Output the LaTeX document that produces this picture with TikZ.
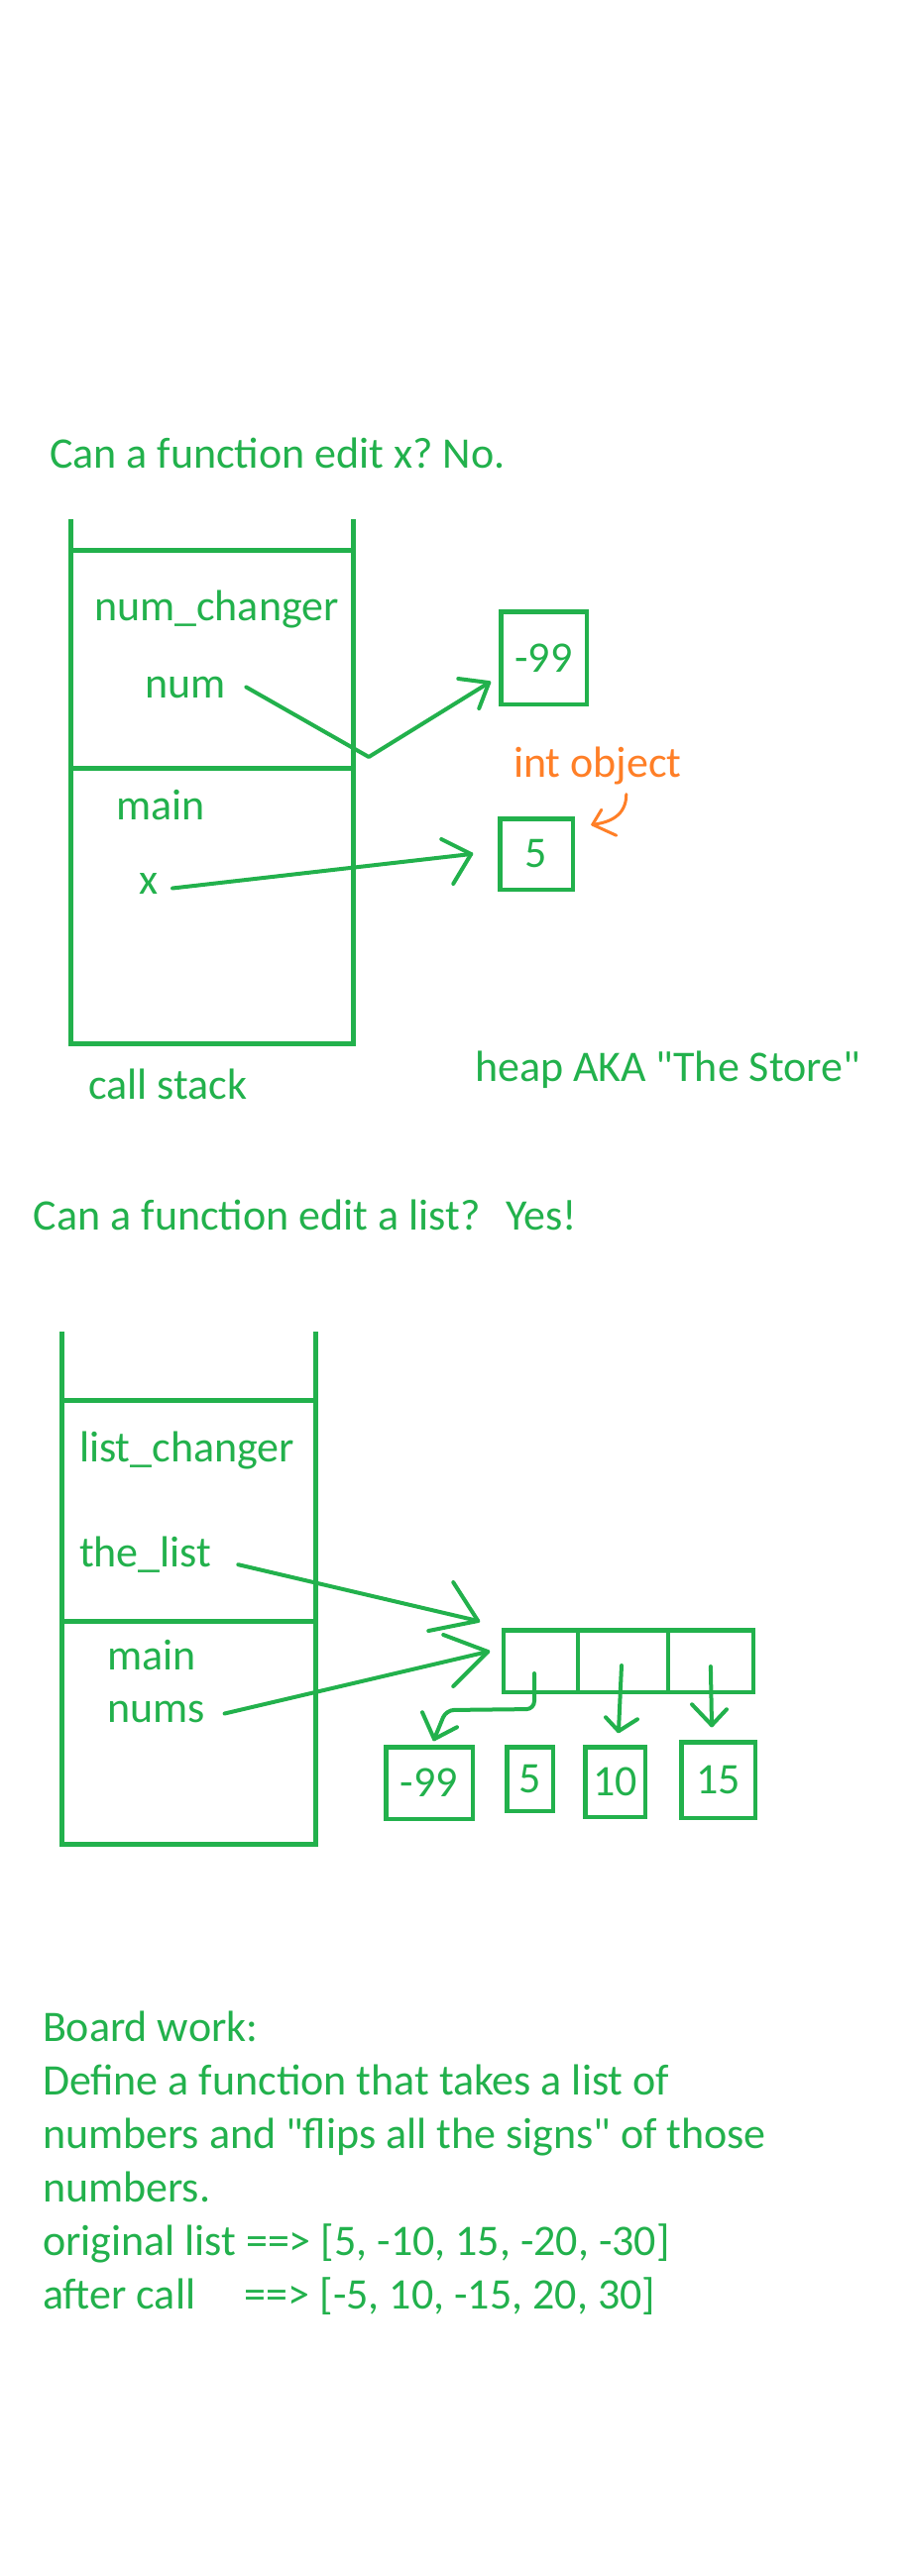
\documentclass[tikz,border=0pt]{standalone}
\usepackage{fontspec}
\setmainfont{Carlito}
\frenchspacing
\definecolor{pgreen}{RGB}{34,177,76}
\definecolor{porange}{RGB}{255,127,39}
\newcommand{\bigfont}{\fontsize{44}{54}\selectfont}
\begin{document}
\begin{tikzpicture}[x=1pt,y=-1pt,
  lbl/.style={anchor=base west, inner sep=0pt, outer sep=0pt, text=pgreen, font=\bigfont},
  olbl/.style={lbl, text=porange},
  stk/.style={draw=pgreen, line width=5pt},
  box/.style={draw=pgreen, line width=4.5pt, inner sep=0pt, outer sep=0pt, text=pgreen, font=\bigfont},
  ptr/.style={draw=pgreen, line width=4pt, line cap=round, line join=round},
  optr/.style={draw=porange, line width=3pt, line cap=round, line join=round}]
\path[fill=white, use as bounding box] (0,0) rectangle (920,2600);

% ---------- Section 1 ----------
\node[lbl] (t1) at (50,472) {Can a function edit x? No.};
\draw[stk] (71,524) -- (71,1053) -- (356,1053) -- (356,524);
\draw[stk] (71,555) -- (356,555);
\draw[stk] (71,775) -- (356,775);
\node[lbl] (numchanger) at (95,626) {num\_changer};
\node[lbl] (num) at (146,704) {num};
\node[lbl] (main1) at (117,827) {main};
\node[lbl] (x) at (140,902) {x};
\node[lbl] (callstack) at (89,1109) {call stack};
\node[lbl] (heap) at (479,1091) {heap AKA \textquotedbl The Store\textquotedbl};
\node[box, minimum width=86.5, minimum height=93.5] (b99) at (548.5,664) {-99};
\node[box, minimum width=73.5, minimum height=71.5] (five1) at (541,862) {5};
\node[olbl] (intobj) at (518,784) {int object};

\draw[ptr] ([shift={(21,0)}]num.east) -- (372,764) -- ([shift={(-12,25)}]b99.west) coordinate (tipA);
\draw[ptr] ([shift={(-31,-4)}]tipA) -- (tipA) -- ([shift={(-10,26)}]tipA);
\draw[ptr] ([shift={(15,5)}]x.east) -- ([shift={(-29,0)}]five1.west) coordinate (tipB);
\draw[ptr] ([shift={(-30,-15)}]tipB) -- (tipB) -- ([shift={(-18,30)}]tipB);
\draw[optr] ([shift={(29,10)}]intobj.south) .. controls +(0,22) and +(17,-2) .. ([shift={(20,6)}]five1.north east) coordinate (tipO);
\draw[optr] ([shift={(9,-15)}]tipO) -- (tipO) -- ([shift={(24,11)}]tipO);

% ---------- Section 2 ----------
\node[lbl] (t2) at (34,1241) {Can a function edit a list?\hspace*{26pt}Yes!};
\draw[stk] (62,1344) -- (62,1861) -- (318,1861) -- (318,1344);
\draw[stk] (62,1413) -- (318,1413);
\draw[stk] (62,1636) -- (318,1636);
\node[lbl] (listchanger) at (80,1475) {list\_changer};
\node[lbl] (thelist) at (80,1581) {the\_list};
\node[lbl] (main2) at (108,1685) {main};
\node[lbl] (nums) at (108,1738) {nums};

\node[box, minimum width=74.75, minimum height=62.5] (c1) at (545.6,1676.5) {};
\node[box, minimum width=91, minimum height=62.5] (c2) at (628.5,1676.5) {};
\node[box, minimum width=85.75, minimum height=62.5] (c3) at (716.9,1676.5) {};

\node[box, minimum width=87.5, minimum height=72.5] (v99) at (433,1799.5) {-99};
\node[box, minimum width=46.5, minimum height=64.5] (v5) at (534.5,1795.5) {5};
\node[box, minimum width=60.5, minimum height=70.5] (v10) at (620.5,1798.5) {10};
\node[box, minimum width=74.5, minimum height=76.5] (v15) at (724.5,1796.5) {15};

\draw[ptr] ([shift={(27,10.5)}]thelist.east) -- ([shift={(-26,-40.5)}]c1.west) coordinate (tipC);
\draw[ptr] ([shift={(-25,-39)}]tipC) -- (tipC) -- ([shift={(-50,10)}]tipC);
\draw[ptr] ([shift={(20,2)}]nums.east) -- ([shift={(-16,-9.5)}]c1.west) coordinate (tipD);
\draw[ptr] ([shift={(-45,-17)}]tipD) -- (tipD) -- ([shift={(-35,35)}]tipD);

\draw[ptr, rounded corners=8pt] ([shift={(-6.6,12.5)}]c1.center) -- ++(0,36) -- (450,1726) -- ([shift={(5,-8)}]v99.north) coordinate (tipE);
\draw[ptr] ([shift={(-12,-27)}]tipE) -- (tipE) -- ([shift={(23,-12)}]tipE);
\draw[ptr] ([shift={(-1.5,4.5)}]c2.center) -- ([shift={(3.5,-16)}]v10.north) coordinate (tipF);
\draw[ptr] ([shift={(-13,-14)}]tipF) -- (tipF) -- ([shift={(19,-12)}]tipF);
\draw[ptr] ([shift={(0,5.5)}]c3.center) -- ([shift={(-6.5,-17)}]v15.north) coordinate (tipG);
\draw[ptr] ([shift={(-20,-21)}]tipG) -- (tipG) -- ([shift={(15,-16)}]tipG);

% ---------- Section 3 ----------
\node[lbl] (bw1) at (43,2060) {Board work:};
\node[lbl] (bw2) at (43,2114) {Define a function that takes a list of};
\node[lbl] (bw3) at (43,2168) {numbers and \textquotedbl flips all the signs\textquotedbl{} of those};
\node[lbl] (bw4) at (43,2222) {numbers.};
\node[lbl] (bw5) at (43,2276) {original list ==> [5, -10, 15, -20, -30]};
\node[lbl] (bw6) at (43,2330) {\makebox[204pt][l]{after call}==> [-5, 10, -15, 20, 30]};
\end{tikzpicture}
\end{document}
